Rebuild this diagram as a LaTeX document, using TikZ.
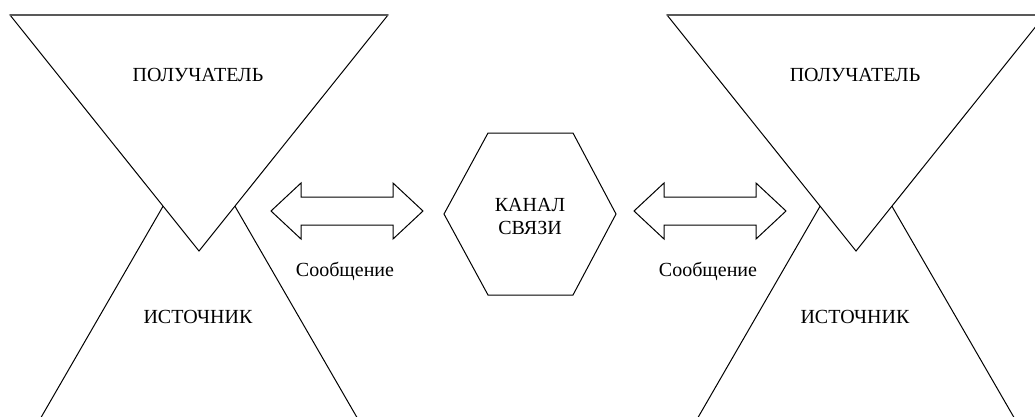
\documentclass[tikz,border=0pt]{standalone}
\usepackage{fontspec}
\setmainfont{Liberation Serif}
\tikzset{
  figline/.style={draw=black, line width=1pt, fill=white, line join=miter},
  caption/.style={font=\fontsize{20}{23}\selectfont, align=center, inner sep=0pt},
}
\begin{document}
\begin{tikzpicture}[x=1pt,y=-1pt]
  \useasboundingbox (0,0) rectangle (1035,416);
  \clip (0,0) rectangle (1035,416);
  \fill[white] (0,0) rectangle (1035,416);
  % source and receiver, both sides
  \foreach \dx/\s in {0/l,657/r} {
    \draw[figline] (199+\dx,144) -- (28+\dx,440) -- (370+\dx,440) -- cycle;
    \draw[figline] (10+\dx,15) -- (388+\dx,15) -- (199+\dx,251) -- cycle;
    \draw[line width=1.8pt, gray!70!black] (10+\dx,15) -- (388+\dx,15);
    \node[caption] (recv\s) at (198+\dx,75) {ПОЛУЧАТЕЛЬ};
    \node[caption] (src\s) at (198+\dx,317) {ИСТОЧНИК};
  }
  % message arrows
  \foreach \ax/\s in {271/l,634/r} {
    \draw[figline] (\ax,211) -- ++(30,-28) -- ++(0,14) -- ++(92,0) -- ++(0,-14)
      -- ++(30,28) -- ++(-30,28) -- ++(0,-14) -- ++(-92,0) -- ++(0,14) -- cycle;
    \node[caption] (msg\s) at (\ax+74,271) {Сообщение};
  }
  % channel
  \draw[figline] (444,214) -- (488,133) -- (573,133) -- (616,214)
    -- (573,295) -- (488,295) -- cycle;
  \node[caption] (chan) at (530,216) {КАНАЛ\\СВЯЗИ};
\end{tikzpicture}
\end{document}
